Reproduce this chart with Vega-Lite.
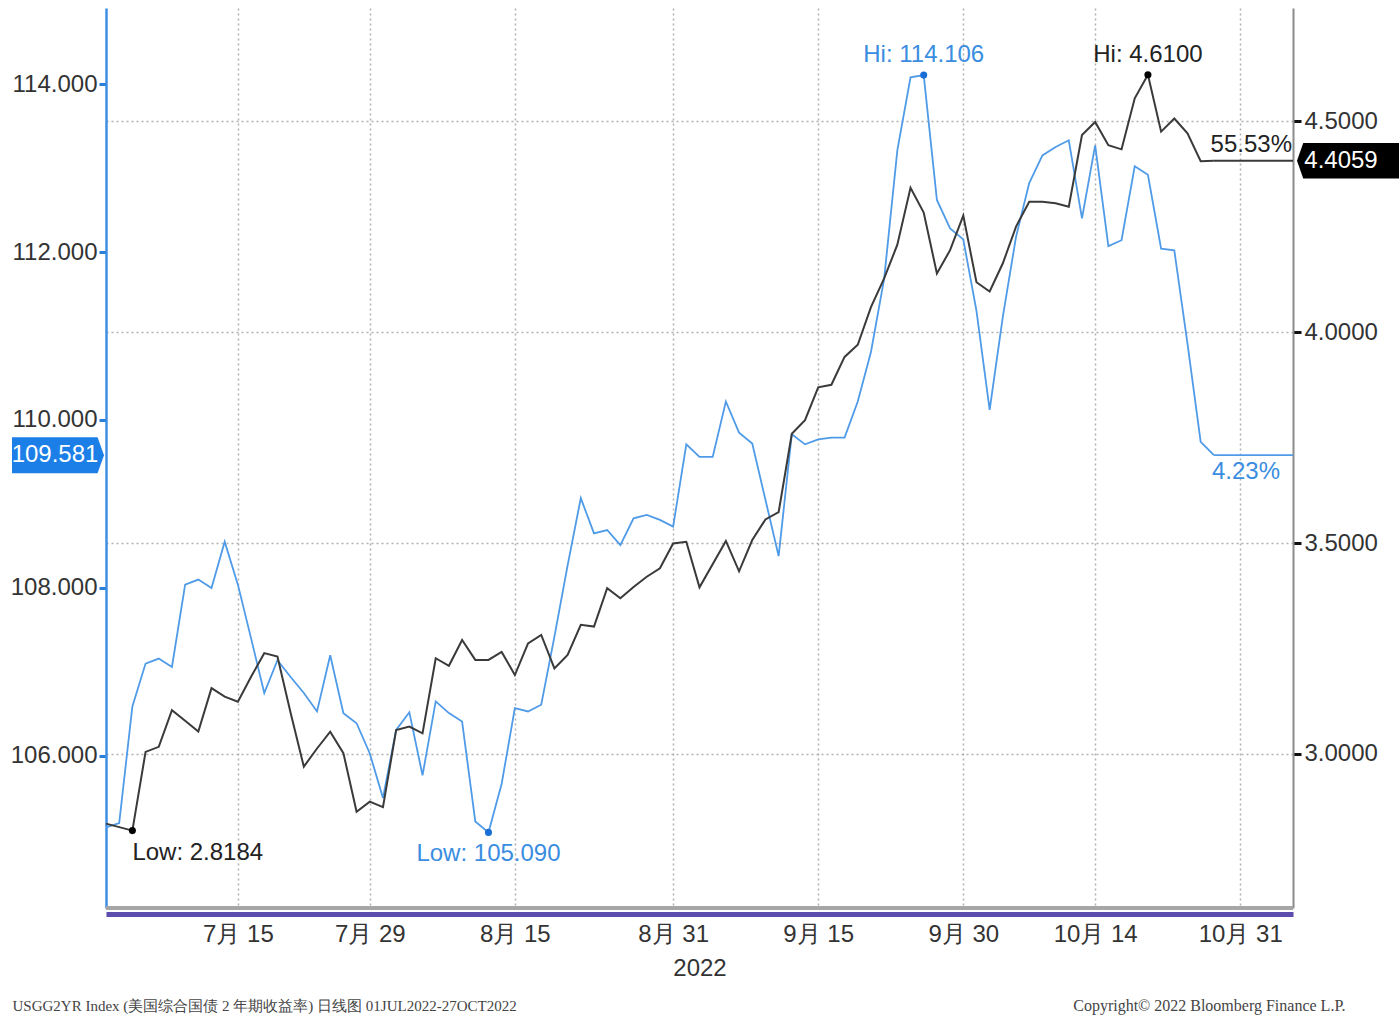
{
  "$schema": "https://vega.github.io/schema/vega-lite/v6.json",
  "width": 1187,
  "height": 900,
  "autosize": {"type": "none"},
  "padding": {"left": 106, "top": 8, "right": 106, "bottom": 108},
  "background": "#ffffff",
  "config": {
    "view": {"stroke": null},
    "font": "Liberation Sans",
    "axis": {"labelFont": "Liberation Sans"}
  },
  "datasets": {
    "dxy": [
      {"date": "2022-07-01", "value": 105.15}, {"date": "2022-07-04", "value": 105.20}, {"date": "2022-07-05", "value": 106.59},
      {"date": "2022-07-06", "value": 107.10}, {"date": "2022-07-07", "value": 107.16}, {"date": "2022-07-08", "value": 107.06},
      {"date": "2022-07-11", "value": 108.04}, {"date": "2022-07-12", "value": 108.10}, {"date": "2022-07-13", "value": 108.00},
      {"date": "2022-07-14", "value": 108.55}, {"date": "2022-07-15", "value": 108.04}, {"date": "2022-07-18", "value": 107.40},
      {"date": "2022-07-19", "value": 106.75}, {"date": "2022-07-20", "value": 107.14}, {"date": "2022-07-21", "value": 106.94},
      {"date": "2022-07-22", "value": 106.75}, {"date": "2022-07-25", "value": 106.53}, {"date": "2022-07-26", "value": 107.20},
      {"date": "2022-07-27", "value": 106.51}, {"date": "2022-07-28", "value": 106.39}, {"date": "2022-07-29", "value": 106.03},
      {"date": "2022-08-01", "value": 105.50}, {"date": "2022-08-02", "value": 106.31}, {"date": "2022-08-03", "value": 106.52},
      {"date": "2022-08-04", "value": 105.77}, {"date": "2022-08-05", "value": 106.65}, {"date": "2022-08-08", "value": 106.51},
      {"date": "2022-08-09", "value": 106.41}, {"date": "2022-08-10", "value": 105.22}, {"date": "2022-08-11", "value": 105.09},
      {"date": "2022-08-12", "value": 105.67}, {"date": "2022-08-15", "value": 106.57}, {"date": "2022-08-16", "value": 106.53},
      {"date": "2022-08-17", "value": 106.61}, {"date": "2022-08-18", "value": 107.42}, {"date": "2022-08-19", "value": 108.27},
      {"date": "2022-08-22", "value": 109.07}, {"date": "2022-08-23", "value": 108.65}, {"date": "2022-08-24", "value": 108.69},
      {"date": "2022-08-25", "value": 108.51}, {"date": "2022-08-26", "value": 108.83}, {"date": "2022-08-29", "value": 108.87},
      {"date": "2022-08-30", "value": 108.81}, {"date": "2022-08-31", "value": 108.73}, {"date": "2022-09-01", "value": 109.71},
      {"date": "2022-09-02", "value": 109.56}, {"date": "2022-09-05", "value": 109.56}, {"date": "2022-09-06", "value": 110.22},
      {"date": "2022-09-07", "value": 109.85}, {"date": "2022-09-08", "value": 109.72}, {"date": "2022-09-09", "value": 109.05},
      {"date": "2022-09-12", "value": 108.38}, {"date": "2022-09-13", "value": 109.83}, {"date": "2022-09-14", "value": 109.71},
      {"date": "2022-09-15", "value": 109.77}, {"date": "2022-09-16", "value": 109.79}, {"date": "2022-09-19", "value": 109.79},
      {"date": "2022-09-20", "value": 110.22}, {"date": "2022-09-21", "value": 110.81}, {"date": "2022-09-22", "value": 111.68},
      {"date": "2022-09-23", "value": 113.21}, {"date": "2022-09-26", "value": 114.08}, {"date": "2022-09-27", "value": 114.106},
      {"date": "2022-09-28", "value": 112.62}, {"date": "2022-09-29", "value": 112.28}, {"date": "2022-09-30", "value": 112.15},
      {"date": "2022-10-03", "value": 111.30}, {"date": "2022-10-04", "value": 110.12}, {"date": "2022-10-05", "value": 111.23},
      {"date": "2022-10-06", "value": 112.18}, {"date": "2022-10-07", "value": 112.82}, {"date": "2022-10-10", "value": 113.15},
      {"date": "2022-10-11", "value": 113.25}, {"date": "2022-10-12", "value": 113.33}, {"date": "2022-10-13", "value": 112.40},
      {"date": "2022-10-14", "value": 113.27}, {"date": "2022-10-17", "value": 112.07}, {"date": "2022-10-18", "value": 112.14},
      {"date": "2022-10-19", "value": 113.02}, {"date": "2022-10-20", "value": 112.92}, {"date": "2022-10-21", "value": 112.04},
      {"date": "2022-10-24", "value": 112.02}, {"date": "2022-10-25", "value": 110.91}, {"date": "2022-10-26", "value": 109.74},
      {"date": "2022-10-27", "value": 109.581}
    ],
    "ust2y": [
      {"date": "2022-07-01", "value": 2.835}, {"date": "2022-07-05", "value": 2.8184},
      {"date": "2022-07-06", "value": 3.005}, {"date": "2022-07-07", "value": 3.017}, {"date": "2022-07-08", "value": 3.104},
      {"date": "2022-07-11", "value": 3.079}, {"date": "2022-07-12", "value": 3.053}, {"date": "2022-07-13", "value": 3.156},
      {"date": "2022-07-14", "value": 3.136}, {"date": "2022-07-15", "value": 3.124}, {"date": "2022-07-18", "value": 3.183},
      {"date": "2022-07-19", "value": 3.239}, {"date": "2022-07-20", "value": 3.231}, {"date": "2022-07-21", "value": 3.097},
      {"date": "2022-07-22", "value": 2.970}, {"date": "2022-07-25", "value": 3.013}, {"date": "2022-07-26", "value": 3.053},
      {"date": "2022-07-27", "value": 3.002}, {"date": "2022-07-28", "value": 2.863}, {"date": "2022-07-29", "value": 2.887},
      {"date": "2022-08-01", "value": 2.874}, {"date": "2022-08-02", "value": 3.057}, {"date": "2022-08-03", "value": 3.065},
      {"date": "2022-08-04", "value": 3.049}, {"date": "2022-08-05", "value": 3.227}, {"date": "2022-08-08", "value": 3.209},
      {"date": "2022-08-09", "value": 3.270}, {"date": "2022-08-10", "value": 3.223}, {"date": "2022-08-11", "value": 3.223},
      {"date": "2022-08-12", "value": 3.242}, {"date": "2022-08-15", "value": 3.187}, {"date": "2022-08-16", "value": 3.262},
      {"date": "2022-08-17", "value": 3.282}, {"date": "2022-08-18", "value": 3.203}, {"date": "2022-08-19", "value": 3.235},
      {"date": "2022-08-22", "value": 3.306}, {"date": "2022-08-23", "value": 3.302}, {"date": "2022-08-24", "value": 3.393},
      {"date": "2022-08-25", "value": 3.369}, {"date": "2022-08-26", "value": 3.396}, {"date": "2022-08-29", "value": 3.420},
      {"date": "2022-08-30", "value": 3.440}, {"date": "2022-08-31", "value": 3.499}, {"date": "2022-09-01", "value": 3.503},
      {"date": "2022-09-02", "value": 3.395}, {"date": "2022-09-06", "value": 3.505}, {"date": "2022-09-07", "value": 3.433},
      {"date": "2022-09-08", "value": 3.507}, {"date": "2022-09-09", "value": 3.556}, {"date": "2022-09-12", "value": 3.573},
      {"date": "2022-09-13", "value": 3.759}, {"date": "2022-09-14", "value": 3.791}, {"date": "2022-09-15", "value": 3.869},
      {"date": "2022-09-16", "value": 3.875}, {"date": "2022-09-19", "value": 3.941}, {"date": "2022-09-20", "value": 3.970},
      {"date": "2022-09-21", "value": 4.059}, {"date": "2022-09-22", "value": 4.127}, {"date": "2022-09-23", "value": 4.207},
      {"date": "2022-09-26", "value": 4.342}, {"date": "2022-09-27", "value": 4.283}, {"date": "2022-09-28", "value": 4.139},
      {"date": "2022-09-29", "value": 4.194}, {"date": "2022-09-30", "value": 4.276}, {"date": "2022-10-03", "value": 4.118},
      {"date": "2022-10-04", "value": 4.096}, {"date": "2022-10-05", "value": 4.163}, {"date": "2022-10-06", "value": 4.250},
      {"date": "2022-10-07", "value": 4.309}, {"date": "2022-10-10", "value": 4.309}, {"date": "2022-10-11", "value": 4.305},
      {"date": "2022-10-12", "value": 4.297}, {"date": "2022-10-13", "value": 4.467}, {"date": "2022-10-14", "value": 4.498},
      {"date": "2022-10-17", "value": 4.443}, {"date": "2022-10-18", "value": 4.433}, {"date": "2022-10-19", "value": 4.554},
      {"date": "2022-10-20", "value": 4.610}, {"date": "2022-10-21", "value": 4.475}, {"date": "2022-10-24", "value": 4.506},
      {"date": "2022-10-25", "value": 4.471}, {"date": "2022-10-26", "value": 4.405}, {"date": "2022-10-27", "value": 4.4059}
    ],
    "dxyNotes": [
      {"kind": "low", "date": "2022-08-11", "value": 105.09, "label": "Low: 105.090"},
      {"kind": "hi", "date": "2022-09-27", "value": 114.106, "label": "Hi: 114.106"},
      {"kind": "badge", "date": "2022-07-01", "value": 109.581, "label": "109.581"},
      {"kind": "chg", "date": "2022-11-04", "value": 109.581, "label": "4.23%"},
      {"kind": "last", "date": "2022-10-27", "end": "2022-11-04", "value": 109.581, "label": ""}
    ],
    "ustNotes": [
      {"kind": "low", "date": "2022-07-05", "value": 2.8184, "label": "Low: 2.8184"},
      {"kind": "hi", "date": "2022-10-20", "value": 4.61, "label": "Hi: 4.6100"},
      {"kind": "badge", "date": "2022-11-04", "value": 4.4059, "label": "4.4059"},
      {"kind": "chg", "date": "2022-11-04", "value": 4.4059, "label": "55.53%"},
      {"kind": "last", "date": "2022-10-27", "end": "2022-11-04", "value": 4.4059, "label": ""}
    ]
  },
  "encoding": {
    "x": {
      "field": "date",
      "type": "ordinal",
      "scale": {
        "type": "point",
        "padding": 0,
        "domain": [
          "2022-07-01","2022-07-04","2022-07-05","2022-07-06","2022-07-07","2022-07-08",
          "2022-07-11","2022-07-12","2022-07-13","2022-07-14","2022-07-15",
          "2022-07-18","2022-07-19","2022-07-20","2022-07-21","2022-07-22",
          "2022-07-25","2022-07-26","2022-07-27","2022-07-28","2022-07-29",
          "2022-08-01","2022-08-02","2022-08-03","2022-08-04","2022-08-05",
          "2022-08-08","2022-08-09","2022-08-10","2022-08-11","2022-08-12",
          "2022-08-15","2022-08-16","2022-08-17","2022-08-18","2022-08-19",
          "2022-08-22","2022-08-23","2022-08-24","2022-08-25","2022-08-26",
          "2022-08-29","2022-08-30","2022-08-31","2022-09-01","2022-09-02",
          "2022-09-05","2022-09-06","2022-09-07","2022-09-08","2022-09-09",
          "2022-09-12","2022-09-13","2022-09-14","2022-09-15","2022-09-16",
          "2022-09-19","2022-09-20","2022-09-21","2022-09-22","2022-09-23",
          "2022-09-26","2022-09-27","2022-09-28","2022-09-29","2022-09-30",
          "2022-10-03","2022-10-04","2022-10-05","2022-10-06","2022-10-07",
          "2022-10-10","2022-10-11","2022-10-12","2022-10-13","2022-10-14",
          "2022-10-17","2022-10-18","2022-10-19","2022-10-20","2022-10-21",
          "2022-10-24","2022-10-25","2022-10-26","2022-10-27","2022-10-28",
          "2022-10-31","2022-11-01","2022-11-02","2022-11-03","2022-11-04"
        ]
      },
      "axis": {
        "values": ["2022-07-15","2022-07-29","2022-08-15","2022-08-31","2022-09-15","2022-09-30","2022-10-14","2022-10-31"],
        "labelExpr": "toNumber(slice(datum.value, 5, 7)) + '月 ' + slice(datum.value, 8, 10)",
        "labelAngle": 0,
        "labelFontSize": 24,
        "labelColor": "#333333",
        "labelPadding": 8,
        "ticks": false,
        "domain": true,
        "domainColor": "#5b4cae",
        "domainWidth": 5,
        "offset": 6,
        "grid": true,
        "gridColor": "#b0b0b0",
        "gridDash": [2, 3],
        "gridWidth": 1.5,
        "title": "2022",
        "titleFont": "Liberation Sans",
        "titleFontSize": 24,
        "titleFontWeight": "normal",
        "titleColor": "#333333",
        "titlePadding": 10
      }
    }
  },
  "layer": [
    {
      "encoding": {
        "y": {
          "field": "value",
          "type": "quantitative",
          "scale": {"domain": [104.19, 114.905], "nice": false, "zero": false},
          "axis": {
            "orient": "left",
            "values": [106, 108, 110, 112, 114],
            "format": ".3f",
            "labelFontSize": 24,
            "labelColor": "#333333",
            "labelPadding": 2,
            "domainColor": "#3d8fe6",
            "domainWidth": 2.5,
            "tickColor": "#2a7fd6",
            "tickSize": 7,
            "tickWidth": 3,
            "grid": false,
            "title": "USGG2YR Index (美国综合国债 2 年期收益率)   日线图 01JUL2022-27OCT2022",
            "titleFont": "Liberation Serif",
            "titleFontSize": 15,
            "titleFontWeight": "normal",
            "titleColor": "#444444",
            "titleAngle": 0,
            "titleAlign": "left",
            "titleBaseline": "middle",
            "titleX": -94,
            "titleY": 997
          }
        }
      },
      "layer": [
        {
          "data": {"values": [{"from": "2022-07-01", "to": "2022-11-04", "level": 104.19}]},
          "mark": {"type": "rule", "color": "#a6a6a6", "strokeWidth": 4},
          "encoding": {"x": {"field": "from"}, "x2": {"field": "to"}, "y": {"field": "level"}}
        },
        {
          "data": {"name": "dxy"},
          "mark": {"type": "line", "color": "#4f9be8", "strokeWidth": 1.8}
        },
        {
          "data": {"name": "dxyNotes"},
          "transform": [{"filter": "datum.kind == 'last'"}],
          "mark": {"type": "rule", "color": "#4f9be8", "strokeWidth": 1.8},
          "encoding": {"x2": {"field": "end"}}
        },
        {
          "data": {"name": "dxyNotes"},
          "transform": [{"filter": "datum.kind == 'hi' || datum.kind == 'low'"}],
          "mark": {"type": "point", "filled": true, "size": 50, "color": "#1a6fd6", "opacity": 1}
        },
        {
          "data": {"name": "dxyNotes"},
          "transform": [{"filter": "datum.kind == 'hi'"}],
          "mark": {"type": "text", "fontSize": 24, "color": "#3a8de0", "align": "center", "baseline": "bottom", "dy": -8},
          "encoding": {"text": {"field": "label"}}
        },
        {
          "data": {"name": "dxyNotes"},
          "transform": [{"filter": "datum.kind == 'low'"}],
          "mark": {"type": "text", "fontSize": 24, "color": "#3a8de0", "align": "center", "baseline": "top", "dy": 10},
          "encoding": {"text": {"field": "label"}}
        },
        {
          "data": {"name": "dxyNotes"},
          "transform": [{"filter": "datum.kind == 'chg'"}],
          "mark": {"type": "text", "fontSize": 24, "color": "#3a8de0", "align": "right", "baseline": "top", "dx": -13, "dy": 5},
          "encoding": {"text": {"field": "label"}}
        },
        {
          "data": {"name": "dxyNotes"},
          "transform": [{"filter": "datum.kind == 'badge'"}],
          "mark": {"type": "point", "filled": true, "opacity": 1, "color": "#1c7fe8", "size": 8464, "xOffset": -48, "clip": false,
                   "shape": "M-1,-0.39L0.86,-0.39L1,0L0.86,0.39L-1,0.39Z"}
        },
        {
          "data": {"name": "dxyNotes"},
          "transform": [{"filter": "datum.kind == 'badge'"}],
          "mark": {"type": "text", "fontSize": 24, "color": "#ffffff", "align": "center", "baseline": "middle", "dx": -51},
          "encoding": {"text": {"field": "label"}}
        }
      ]
    },
    {
      "encoding": {
        "y": {
          "field": "value",
          "type": "quantitative",
          "scale": {"domain": [2.635, 4.768], "nice": false, "zero": false},
          "axis": {
            "orient": "right",
            "values": [3, 3.5, 4, 4.5],
            "format": ".4f",
            "labelFontSize": 24,
            "labelColor": "#333333",
            "labelPadding": 3,
            "domainColor": "#8c8c8c",
            "domainWidth": 2,
            "tickColor": "#111111",
            "tickSize": 8,
            "tickWidth": 3,
            "grid": true,
            "gridColor": "#b0b0b0",
            "gridDash": [2, 3],
            "gridWidth": 1.5,
            "title": "Copyright© 2022 Bloomberg Finance L.P.",
            "titleFont": "Liberation Serif",
            "titleFontSize": 16,
            "titleFontWeight": "normal",
            "titleColor": "#444444",
            "titleAngle": 0,
            "titleAlign": "right",
            "titleBaseline": "middle",
            "titleX": 52,
            "titleY": 997
          }
        }
      },
      "layer": [
        {
          "data": {"name": "ust2y"},
          "mark": {"type": "line", "color": "#3a3a3a", "strokeWidth": 2}
        },
        {
          "data": {"name": "ustNotes"},
          "transform": [{"filter": "datum.kind == 'last'"}],
          "mark": {"type": "rule", "color": "#3a3a3a", "strokeWidth": 2},
          "encoding": {"x2": {"field": "end"}}
        },
        {
          "data": {"name": "ustNotes"},
          "transform": [{"filter": "datum.kind == 'hi' || datum.kind == 'low'"}],
          "mark": {"type": "point", "filled": true, "size": 50, "color": "#000000", "opacity": 1}
        },
        {
          "data": {"name": "ustNotes"},
          "transform": [{"filter": "datum.kind == 'hi'"}],
          "mark": {"type": "text", "fontSize": 24, "color": "#222222", "align": "center", "baseline": "bottom", "dy": -8},
          "encoding": {"text": {"field": "label"}}
        },
        {
          "data": {"name": "ustNotes"},
          "transform": [{"filter": "datum.kind == 'low'"}],
          "mark": {"type": "text", "fontSize": 24, "color": "#222222", "align": "left", "baseline": "top", "dy": 10},
          "encoding": {"text": {"field": "label"}}
        },
        {
          "data": {"name": "ustNotes"},
          "transform": [{"filter": "datum.kind == 'chg'"}],
          "mark": {"type": "text", "fontSize": 24, "color": "#222222", "align": "right", "baseline": "bottom", "dx": -1, "dy": -4},
          "encoding": {"text": {"field": "label"}}
        },
        {
          "data": {"name": "ustNotes"},
          "transform": [{"filter": "datum.kind == 'badge'"}],
          "mark": {"type": "point", "filled": true, "opacity": 1, "color": "#000000", "size": 10816, "xOffset": 56, "clip": false,
                   "shape": "M-1,0L-0.88,-0.34L1,-0.34L1,0.34L-0.88,0.34Z"}
        },
        {
          "data": {"name": "ustNotes"},
          "transform": [{"filter": "datum.kind == 'badge'"}],
          "mark": {"type": "text", "fontSize": 24, "color": "#ffffff", "align": "center", "baseline": "middle", "dx": 48},
          "encoding": {"text": {"field": "label"}}
        }
      ]
    }
  ],
  "resolve": {"scale": {"y": "independent"}}
}
